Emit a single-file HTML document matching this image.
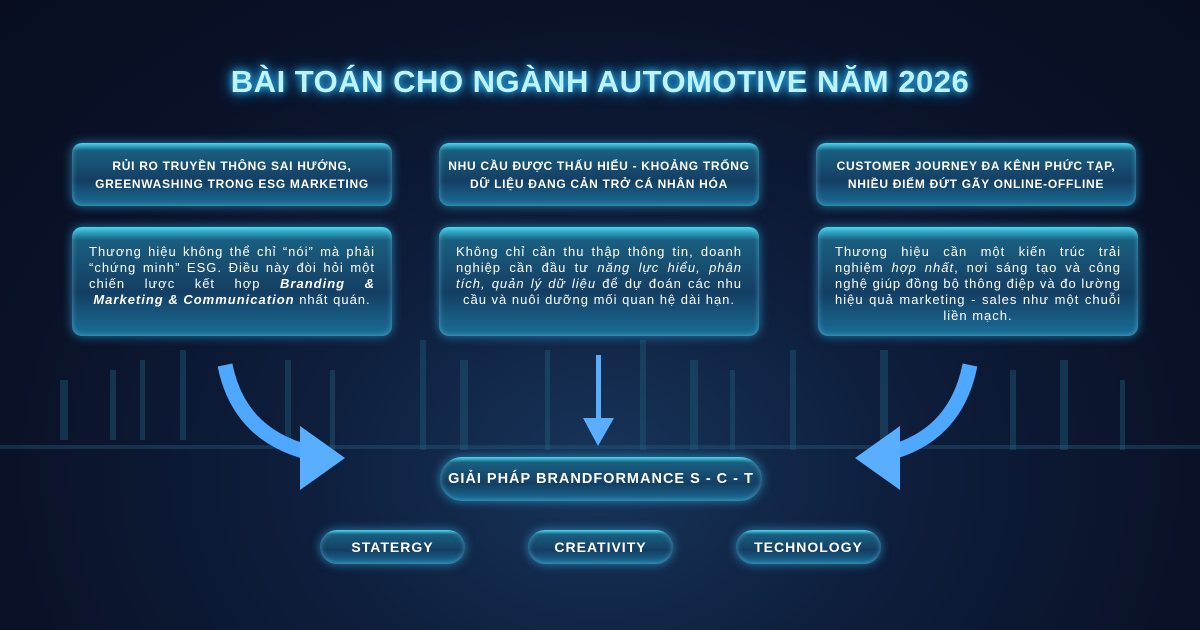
<!DOCTYPE html>
<html><head><meta charset="utf-8"><style>
body{margin:0;width:1200px;height:630px;overflow:hidden;font-family:"Liberation Sans",sans-serif;}
#c{position:relative;width:1200px;height:630px;background:radial-gradient(ellipse at 50% 75%,#17355a 0%,#0e1e3c 35%,#0a1228 70%,#080e20 100%);overflow:hidden}
.t{position:absolute;left:0;width:1200px;top:64px;text-align:center;font-size:31px;font-weight:bold;color:#bff4ff;letter-spacing:0.5px;text-shadow:0 0 8px #35c8ff,0 0 16px #1aa0ff}
.b{position:absolute;box-sizing:border-box;border-radius:10px;background:linear-gradient(180deg,#3fd2ea 0%,#1a5f80 12%,#143e63 60%,#1a6f98 100%);box-shadow:0 0 10px rgba(60,200,255,.55),inset 0 0 6px rgba(120,230,255,.5);color:#fff;text-align:center;display:flex;align-items:center;justify-content:center}
.h{height:63px;top:143px;width:320px;font-weight:bold;font-size:12px;letter-spacing:0.7px;line-height:18px;white-space:nowrap}
.d{height:109px;top:227px;width:320px;font-size:13px;letter-spacing:1px;line-height:16px;padding:0 17px;align-items:flex-start;padding-top:17px}
.d div{text-align:justify;text-align-last:center}
.p{border-radius:22px;font-weight:bold;letter-spacing:1px}
</style></head><body><div id="c">
<svg width="1200" height="630" style="position:absolute;left:0;top:0">
<g fill="#1f5a78" opacity=".45">
<rect x="60" y="380" width="8" height="60"/><rect x="110" y="370" width="6" height="70"/><rect x="140" y="360" width="5" height="80"/><rect x="180" y="350" width="6" height="90"/><rect x="285" y="360" width="6" height="90"/><rect x="330" y="370" width="5" height="80"/><rect x="420" y="340" width="6" height="110"/><rect x="460" y="360" width="8" height="90"/><rect x="545" y="350" width="5" height="100"/><rect x="640" y="340" width="6" height="110"/><rect x="690" y="360" width="8" height="90"/><rect x="730" y="370" width="5" height="80"/><rect x="790" y="350" width="6" height="100"/><rect x="880" y="350" width="8" height="100"/><rect x="1010" y="370" width="6" height="80"/><rect x="1060" y="360" width="8" height="90"/><rect x="1120" y="380" width="5" height="70"/></g>
<rect x="0" y="445" width="1200" height="4" fill="#2a5a7a" opacity=".4"/>
<path d="M225 365 Q240 440 320 455" stroke="#4fa8ff" stroke-width="15" fill="none"/>
<polygon points="300,426 345,458 300,490" fill="#5aaeff"/>
<path d="M970 365 Q955 440 880 455" stroke="#4fa8ff" stroke-width="15" fill="none"/>
<polygon points="900,426 855,458 900,490" fill="#5aaeff"/>
<rect x="596" y="355" width="5" height="65" fill="#5aaeff"/>
<polygon points="583,418 614,418 598,446" fill="#5aaeff"/>
</svg>
<div class="t">BÀI TOÁN CHO NGÀNH AUTOMOTIVE NĂM 2026</div>
<div class="b h" style="left:72px">RỦI RO TRUYỀN THÔNG SAI HƯỚNG,<br>GREENWASHING TRONG ESG MARKETING</div>
<div class="b h" style="left:439px">NHU CẦU ĐƯỢC THẤU HIỂU - KHOẢNG TRỐNG<br>DỮ LIỆU ĐANG CẢN TRỞ CÁ NHÂN HÓA</div>
<div class="b h" style="left:816px">CUSTOMER JOURNEY ĐA KÊNH PHỨC TẠP,<br>NHIỀU ĐIỂM ĐỨT GÃY ONLINE-OFFLINE</div>
<div class="b d" style="left:72px"><div>Thương hiệu không thể chỉ “nói” mà phải “chứng minh” ESG. Điều này đòi hỏi một chiến lược kết hợp <i><b>Branding &amp; Marketing &amp; Communication</b></i> nhất quán.</div></div>
<div class="b d" style="left:439px"><div>Không chỉ cần thu thập thông tin, doanh nghiệp cần đầu tư <i>năng lực hiểu, phân tích, quản lý dữ liệu</i> để dự đoán các nhu cầu và nuôi dưỡng mối quan hệ dài hạn.</div></div>
<div class="b d" style="left:818px"><div>Thương hiệu cần một kiến trúc trải nghiệm <i>hợp nhất</i>, nơi sáng tạo và công nghệ giúp đồng bộ thông điệp và đo lường hiệu quả marketing - sales như một chuỗi liền mạch.</div></div>
<div class="b p" style="left:440px;top:457px;width:322px;height:44px;font-size:14.5px">GIẢI PHÁP BRANDFORMANCE S - C - T</div>
<div class="b p" style="left:320px;top:530px;width:145px;height:34px;font-size:14px;border-radius:17px">STATERGY</div>
<div class="b p" style="left:528px;top:530px;width:145px;height:34px;font-size:14px;border-radius:17px">CREATIVITY</div>
<div class="b p" style="left:736px;top:530px;width:145px;height:34px;font-size:14px;border-radius:17px">TECHNOLOGY</div>
</div></body></html>
